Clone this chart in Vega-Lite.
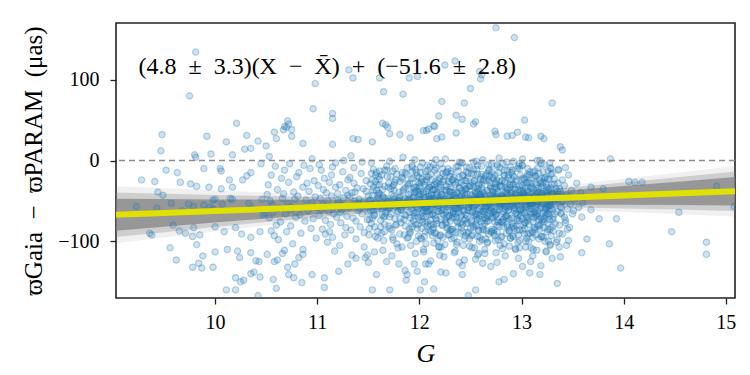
{
  "$schema": "https://vega.github.io/schema/vega-lite/v6.json",
  "width": 619,
  "height": 275,
  "autosize": {"type": "none"},
  "padding": {"left": 116, "top": 23, "right": 15, "bottom": 77},
  "background": "white",
  "config": {
    "view": {"stroke": "#222222", "strokeWidth": 1.6},
    "axis": {
      "domain": false, "grid": false,
      "labelFont": "Liberation Serif", "labelFontSize": 20, "labelColor": "#000000",
      "tickColor": "#222222", "tickSize": 6, "tickWidth": 1.3,
      "titleFont": "Liberation Serif", "titleFontWeight": "normal", "titleColor": "#000000"
    }
  },
  "datasets": {
    "band": [
      {"g": 9.03, "m": -67.1, "lo1": -86.9, "hi1": -47.3, "lo2": -94.6, "hi2": -39.6, "lo3": -102.3, "hi3": -31.9},
      {"g": 9.5, "m": -64.8, "lo1": -81.9, "hi1": -47.7, "lo2": -88.6, "hi2": -41.1, "lo3": -95.2, "hi3": -34.4},
      {"g": 10.0, "m": -62.4, "lo1": -76.7, "hi1": -48.1, "lo2": -82.3, "hi2": -42.5, "lo3": -87.8, "hi3": -37.0},
      {"g": 10.5, "m": -60.0, "lo1": -71.6, "hi1": -48.4, "lo2": -76.1, "hi2": -43.9, "lo3": -80.5, "hi3": -39.5},
      {"g": 11.0, "m": -57.6, "lo1": -66.6, "hi1": -48.6, "lo2": -70.1, "hi2": -45.1, "lo3": -73.5, "hi3": -41.7},
      {"g": 11.5, "m": -55.2, "lo1": -61.9, "hi1": -48.5, "lo2": -64.6, "hi2": -45.8, "lo3": -67.2, "hi3": -43.2},
      {"g": 12.0, "m": -52.8, "lo1": -58.1, "hi1": -47.5, "lo2": -60.1, "hi2": -45.5, "lo3": -62.1, "hi3": -43.5},
      {"g": 12.25, "m": -51.6, "lo1": -56.6, "hi1": -46.6, "lo2": -58.6, "hi2": -44.6, "lo3": -60.6, "hi3": -42.6},
      {"g": 12.5, "m": -50.4, "lo1": -55.7, "hi1": -45.1, "lo2": -57.7, "hi2": -43.1, "lo3": -59.7, "hi3": -41.1},
      {"g": 13.0, "m": -48.0, "lo1": -54.7, "hi1": -41.3, "lo2": -57.4, "hi2": -38.6, "lo3": -60.0, "hi3": -36.0},
      {"g": 13.5, "m": -45.6, "lo1": -54.6, "hi1": -36.6, "lo2": -58.1, "hi2": -33.1, "lo3": -61.5, "hi3": -29.7},
      {"g": 14.0, "m": -43.2, "lo1": -54.8, "hi1": -31.6, "lo2": -59.3, "hi2": -27.1, "lo3": -63.7, "hi3": -22.7},
      {"g": 14.5, "m": -40.8, "lo1": -55.1, "hi1": -26.5, "lo2": -60.7, "hi2": -20.9, "lo3": -66.2, "hi3": -15.4},
      {"g": 15.09, "m": -38.0, "lo1": -55.6, "hi1": -20.4, "lo2": -62.5, "hi2": -13.5, "lo3": -69.3, "hi3": -6.7}
    ],
    "ann": [
      {"g": 9.25, "d": 116, "t": "(4.8\u2002±\u20023.3)(X\u2002−\u2002X̄)\u2002+\u2002(−51.6\u2002±\u20022.8)"}
    ],
    "pts": [
      {"g":13.87,"d":2},{"g":14.05,"d":-26},{"g":14.11,"d":-27},{"g":14.18,"d":-27},{"g":13.68,"d":-33},{"g":13.8,"d":-35},{"g":13.6,"d":-45},{"g":14.91,"d":-32},{"g":15.08,"d":-57},{"g":13.68,"d":-61},{"g":13.59,"d":-70},{"g":13.76,"d":-72},{"g":13.93,"d":-72},{"g":14.54,"d":-64},{"g":13.64,"d":-97},{"g":13.86,"d":-103},{"g":13.59,"d":-114},{"g":14.47,"d":-88},{"g":14.81,"d":-101},{"g":14.81,"d":-116},{"g":13.97,"d":-133},
      {"g":9.81,"d":134},{"g":9.75,"d":80},{"g":10.21,"d":46},{"g":9.48,"d":32},{"g":9.92,"d":30},{"g":10.11,"d":23},{"g":9.47,"d":12},{"g":9.8,"d":7},{"g":9.81,"d":4},{"g":9.96,"d":8},{"g":10.31,"d":31},{"g":10.42,"d":24},{"g":10.29,"d":14},{"g":10.35,"d":15},{"g":10.17,"d":7},{"g":10.5,"d":18},{"g":9.52,"d":-12},{"g":9.63,"d":-15},{"g":9.89,"d":-10},{"g":10.05,"d":-10},{"g":10.06,"d":-13},{"g":9.28,"d":-24},{"g":9.41,"d":-26},{"g":9.66,"d":-27},{"g":9.82,"d":-32},{"g":9.94,"d":-33},{"g":9.76,"d":-29},{"g":10.14,"d":-24},{"g":10.17,"d":-33},{"g":10.27,"d":-24},{"g":10.31,"d":-19},{"g":10.06,"d":-35},{"g":10.35,"d":-15},{"g":9.44,"d":-39},{"g":9.49,"d":-43},{"g":9.23,"d":-57},{"g":9.43,"d":-59},{"g":9.57,"d":-53},{"g":9.74,"d":-54},{"g":9.79,"d":-57},{"g":9.89,"d":-55},{"g":9.98,"d":-49},{"g":10.0,"d":-48},{"g":10.15,"d":-47},{"g":10.17,"d":-48},{"g":9.68,"d":-62},{"g":9.95,"d":-58},{"g":9.98,"d":-60},{"g":10.07,"d":-54},{"g":10.33,"d":-53},{"g":10.36,"d":-59},{"g":10.46,"d":-48},{"g":10.47,"d":-67},{"g":10.49,"d":-65},{"g":9.36,"d":-90},{"g":9.38,"d":-92},{"g":9.59,"d":-80},{"g":9.65,"d":-87},{"g":9.71,"d":-90},{"g":9.79,"d":-83},{"g":9.78,"d":-94},{"g":9.85,"d":-92},{"g":10.0,"d":-82},{"g":10.09,"d":-88},{"g":9.82,"d":-104},{"g":10.2,"d":-83},{"g":10.26,"d":-91},{"g":10.35,"d":-95},{"g":10.44,"d":-88},{"g":9.56,"d":-108},{"g":9.62,"d":-123},{"g":9.88,"d":-118},{"g":10.0,"d":-113},{"g":10.12,"d":-110},{"g":10.22,"d":-112},{"g":9.78,"d":-132},{"g":9.84,"d":-127},{"g":9.87,"d":-133},{"g":9.98,"d":-132},{"g":10.2,"d":-145},{"g":10.11,"d":-160},{"g":10.2,"d":-160},{"g":10.25,"d":-150},{"g":10.28,"d":-148},{"g":10.35,"d":-140},{"g":10.38,"d":-138},{"g":10.44,"d":-144},{"g":10.4,"d":-124},{"g":10.43,"d":-125},{"g":10.51,"d":-116},{"g":10.35,"d":-114},{"g":10.42,"d":-167},{"g":10.24,"d":-120},{"g":10.45,"d":-4},{"g":10.53,"d":5},
      {"g":10.98,"d":95},{"g":10.96,"d":64},{"g":11.15,"d":58},{"g":11.15,"d":52},{"g":11.35,"d":102},{"g":11.31,"d":112},{"g":11.61,"d":102},{"g":11.65,"d":85},{"g":11.84,"d":82},{"g":11.9,"d":102},{"g":11.98,"d":104},{"g":11.64,"d":46},{"g":11.67,"d":44},{"g":11.69,"d":41},{"g":10.58,"d":35},{"g":10.67,"d":38},{"g":10.7,"d":41},{"g":10.72,"d":45},{"g":10.75,"d":38},{"g":10.75,"d":30},{"g":10.6,"d":27},{"g":10.86,"d":21},{"g":11.81,"d":32},{"g":11.71,"d":33},{"g":11.91,"d":28},{"g":11.35,"d":27},{"g":11.4,"d":26},{"g":11.15,"d":20},{"g":11.54,"d":23},{"g":12.04,"d":37},{"g":10.71,"d":49},{"g":10.68,"d":42},
      {"g":10.58,"d":-125},{"g":10.61,"d":-123},{"g":10.66,"d":-115},{"g":10.72,"d":-141},{"g":10.77,"d":-145},{"g":10.78,"d":-128},{"g":10.85,"d":-151},{"g":10.6,"d":-158},{"g":11.07,"d":-157},{"g":11.07,"d":-145},{"g":10.95,"d":-141},{"g":11.21,"d":-137},{"g":11.3,"d":-128},{"g":11.38,"d":-121},{"g":11.49,"d":-117},{"g":11.5,"d":-126},{"g":11.58,"d":-141},{"g":11.54,"d":-160},{"g":11.71,"d":-160},{"g":11.8,"d":-128},{"g":11.86,"d":-136},{"g":11.87,"d":-148},{"g":11.88,"d":-141},{"g":11.95,"d":-128},{"g":11.98,"d":-137},{"g":12.01,"d":-160},{"g":10.82,"d":-120},{"g":10.86,"d":-116},{"g":10.55,"d":-87},{"g":10.68,"d":-111},{"g":10.57,"d":-147},{"g":10.71,"d":-132},
      {"g":12.75,"d":164},{"g":12.93,"d":152},{"g":12.59,"d":110},{"g":12.61,"d":106},{"g":12.5,"d":89},{"g":12.22,"d":73},{"g":12.44,"d":71},{"g":13.3,"d":71},{"g":12.19,"d":55},{"g":12.36,"d":56},{"g":12.42,"d":51},{"g":12.55,"d":48},{"g":13.03,"d":50},{"g":12.14,"d":43},{"g":12.09,"d":39},{"g":12.36,"d":34},{"g":12.74,"d":36},{"g":12.75,"d":32},{"g":12.96,"d":35},{"g":12.86,"d":30},{"g":12.91,"d":31},{"g":13.04,"d":29},{"g":13.07,"d":28},{"g":13.19,"d":30},{"g":13.22,"d":27},{"g":13.38,"d":17},{"g":13.4,"d":13},{"g":12.17,"d":27},{"g":12.22,"d":29},{"g":12.35,"d":123},{"g":12.25,"d":118},{"g":12.6,"d":101},{"g":12.07,"d":37},{"g":12.15,"d":42},{"g":12.53,"d":45},
      {"g":13.35,"d":-152},{"g":12.78,"d":-150},{"g":12.83,"d":-147},{"g":12.55,"d":-160},{"g":12.48,"d":-167},{"g":12.14,"d":-159},{"g":12.05,"d":-150},{"g":12.21,"d":-138},{"g":12.26,"d":-139},{"g":12.42,"d":-141},{"g":12.62,"d":-127},{"g":12.76,"d":-126},{"g":12.92,"d":-140},{"g":13.01,"d":-131},{"g":13.08,"d":-139},{"g":13.18,"d":-141},{"g":13.19,"d":-130},{"g":13.3,"d":-121},{"g":13.38,"d":-119},{"g":13.37,"d":-107},{"g":13.46,"d":-99},{"g":13.44,"d":-105},{"g":13.28,"d":-105},{"g":13.4,"d":-91},{"g":13.45,"d":-85},{"g":13.43,"d":-77},{"g":13.42,"d":-70},{"g":13.51,"d":-62},{"g":12.39,"d":-126},{"g":12.42,"d":-130},{"g":12.58,"d":-115},{"g":12.55,"d":-122},{"g":12.06,"d":-128},{"g":12.11,"d":-124},{"g":12.2,"d":-117},{"g":12.98,"d":-108},{"g":13.11,"d":-118},
      {"g":10.51,"d":-42},{"g":10.53,"d":-71},{"g":10.55,"d":-18},{"g":10.56,"d":-55},{"g":10.58,"d":-93},{"g":10.52,"d":-30},{"g":10.57,"d":-64},{"g":10.59,"d":-7},{"g":10.54,"d":-50},{"g":10.6,"d":-80},
      {"g":10.61,"d":-36},{"g":10.63,"d":-59},{"g":10.62,"d":-98},{"g":10.65,"d":-22},{"g":10.66,"d":-47},{"g":10.64,"d":-76},{"g":10.68,"d":-12},{"g":10.69,"d":-66},{"g":10.67,"d":-41},{"g":10.7,"d":-88},
      {"g":10.71,"d":-53},{"g":10.72,"d":-27},{"g":10.74,"d":-81},{"g":10.73,"d":-4},{"g":10.75,"d":-61},{"g":10.77,"d":-39},{"g":10.76,"d":-103},{"g":10.78,"d":-48},{"g":10.79,"d":-70},{"g":10.8,"d":-20},{"g":10.74,"d":-57},
      {"g":10.81,"d":-44},{"g":10.83,"d":-67},{"g":10.82,"d":-15},{"g":10.84,"d":-90},{"g":10.86,"d":-33},{"g":10.85,"d":-58},{"g":10.87,"d":-6},{"g":10.88,"d":-75},{"g":10.89,"d":-49},{"g":10.9,"d":-28},{"g":10.86,"d":-110},
      {"g":10.91,"d":-62},{"g":10.92,"d":-38},{"g":10.94,"d":-84},{"g":10.93,"d":-10},{"g":10.95,"d":-52},{"g":10.96,"d":-72},{"g":10.97,"d":-25},{"g":10.98,"d":-45},{"g":10.99,"d":-96},{"g":11.0,"d":-58},{"g":10.95,"d":2},
      {"g":11.01,"d":-31},{"g":11.02,"d":-68},{"g":11.03,"d":-47},{"g":11.04,"d":-12},{"g":11.05,"d":-85},{"g":11.06,"d":-55},{"g":11.07,"d":-22},{"g":11.08,"d":-74},{"g":11.09,"d":-40},{"g":11.1,"d":-101},{"g":11.02,"d":-5},{"g":11.04,"d":-60},{"g":11.06,"d":-36},{"g":11.08,"d":-91},{"g":11.1,"d":-50},
      {"g":11.11,"d":-63},{"g":11.12,"d":-27},{"g":11.13,"d":-79},{"g":11.14,"d":-44},{"g":11.15,"d":-8},{"g":11.16,"d":-57},{"g":11.17,"d":-112},{"g":11.18,"d":-33},{"g":11.19,"d":-70},{"g":11.2,"d":-49},{"g":11.12,"d":-88},{"g":11.14,"d":-18},{"g":11.16,"d":-66},{"g":11.18,"d":-3},{"g":11.2,"d":-41},{"g":11.15,"d":-95},
      {"g":11.21,"d":-52},{"g":11.22,"d":-30},{"g":11.23,"d":-77},{"g":11.24,"d":-61},{"g":11.25,"d":-14},{"g":11.26,"d":-46},{"g":11.27,"d":-92},{"g":11.28,"d":-37},{"g":11.29,"d":-69},{"g":11.3,"d":-24},{"g":11.22,"d":-105},{"g":11.24,"d":-55},{"g":11.26,"d":0},{"g":11.28,"d":-83},{"g":11.3,"d":-43},{"g":11.23,"d":-64},
      {"g":11.31,"d":-58},{"g":11.32,"d":-21},{"g":11.33,"d":-86},{"g":11.34,"d":-40},{"g":11.35,"d":-71},{"g":11.36,"d":-9},{"g":11.37,"d":-50},{"g":11.38,"d":-97},{"g":11.39,"d":-34},{"g":11.4,"d":-62},{"g":11.32,"d":-45},{"g":11.34,"d":-117},{"g":11.36,"d":-28},{"g":11.38,"d":-75},{"g":11.4,"d":-53},{"g":11.33,"d":6},{"g":11.37,"d":-39},
      {"g":11.41,"d":-48},{"g":11.42,"d":-82},{"g":11.43,"d":-16},{"g":11.44,"d":-66},{"g":11.45,"d":-35},{"g":11.46,"d":-107},{"g":11.47,"d":-56},{"g":11.48,"d":-25},{"g":11.49,"d":-73},{"g":11.5,"d":-44},{"g":11.42,"d":-60},{"g":11.44,"d":-2},{"g":11.46,"d":-89},{"g":11.48,"d":-38},{"g":11.5,"d":-64},{"g":11.45,"d":-51},{"g":11.47,"d":-120},
      {"g":11.51,"d":-55},{"g":11.52,"d":-29},{"g":11.53,"d":-78},{"g":11.54,"d":-43},{"g":11.55,"d":-11},{"g":11.56,"d":-67},{"g":11.57,"d":-94},{"g":11.58,"d":-37},{"g":11.59,"d":-60},{"g":11.6,"d":-20},{"g":11.51,"d":-84},{"g":11.52,"d":-49},{"g":11.53,"d":-3},{"g":11.54,"d":-71},{"g":11.55,"d":-33},{"g":11.56,"d":-113},{"g":11.57,"d":-52},{"g":11.58,"d":-15},{"g":11.59,"d":-88},{"g":11.6,"d":-46},{"g":11.55,"d":-62},{"g":11.57,"d":-26},
      {"g":11.61,"d":-41},{"g":11.62,"d":-74},{"g":11.63,"d":-18},{"g":11.64,"d":-57},{"g":11.65,"d":-99},{"g":11.66,"d":-32},{"g":11.67,"d":-65},{"g":11.68,"d":-7},{"g":11.69,"d":-50},{"g":11.7,"d":-81},{"g":11.61,"d":-23},{"g":11.62,"d":-54},{"g":11.63,"d":-90},{"g":11.64,"d":-36},{"g":11.65,"d":-70},{"g":11.66,"d":-12},{"g":11.67,"d":-47},{"g":11.68,"d":-125},{"g":11.69,"d":-61},{"g":11.7,"d":-28},{"g":11.64,"d":-44},{"g":11.66,"d":-79},
      {"g":11.71,"d":-59},{"g":11.72,"d":-35},{"g":11.73,"d":-86},{"g":11.74,"d":-13},{"g":11.75,"d":-48},{"g":11.76,"d":-72},{"g":11.77,"d":-24},{"g":11.78,"d":-103},{"g":11.79,"d":-54},{"g":11.8,"d":-39},{"g":11.71,"d":-1},{"g":11.72,"d":-66},{"g":11.73,"d":-42},{"g":11.74,"d":-95},{"g":11.75,"d":-30},{"g":11.76,"d":-57},{"g":11.77,"d":-80},{"g":11.78,"d":-17},{"g":11.79,"d":-63},{"g":11.8,"d":-46},{"g":11.73,"d":-118},{"g":11.77,"d":-51},
      {"g":11.81,"d":-44},{"g":11.82,"d":-77},{"g":11.83,"d":-21},{"g":11.84,"d":-58},{"g":11.85,"d":-92},{"g":11.86,"d":-34},{"g":11.87,"d":-68},{"g":11.88,"d":-9},{"g":11.89,"d":-50},{"g":11.9,"d":-85},{"g":11.81,"d":-26},{"g":11.82,"d":-61},{"g":11.83,"d":-107},{"g":11.84,"d":-38},{"g":11.85,"d":-73},{"g":11.86,"d":-15},{"g":11.87,"d":-53},{"g":11.88,"d":-96},{"g":11.89,"d":-31},{"g":11.9,"d":-64},{"g":11.84,"d":4},{"g":11.86,"d":-47},
      {"g":11.91,"d":-56},{"g":11.92,"d":-23},{"g":11.93,"d":-82},{"g":11.94,"d":-45},{"g":11.95,"d":-69},{"g":11.96,"d":-11},{"g":11.97,"d":-100},{"g":11.98,"d":-37},{"g":11.99,"d":-60},{"g":12.0,"d":-29},{"g":11.91,"d":-88},{"g":11.92,"d":-51},{"g":11.93,"d":-6},{"g":11.94,"d":-74},{"g":11.95,"d":-40},{"g":11.96,"d":-115},{"g":11.97,"d":-57},{"g":11.98,"d":-19},{"g":11.99,"d":-79},{"g":12.0,"d":-48},{"g":11.95,"d":-33},{"g":11.97,"d":-65},
      {"g":12.01,"d":-52},{"g":12.02,"d":-27},{"g":12.03,"d":-76},{"g":12.04,"d":-41},{"g":12.05,"d":-94},{"g":12.06,"d":-14},{"g":12.07,"d":-63},{"g":12.08,"d":-35},{"g":12.09,"d":-86},{"g":12.1,"d":-48},{"g":12.01,"d":-8},{"g":12.02,"d":-70},{"g":12.03,"d":-55},{"g":12.04,"d":-110},{"g":12.05,"d":-30},{"g":12.06,"d":-59},{"g":12.07,"d":-20},{"g":12.08,"d":-81},{"g":12.09,"d":-44},{"g":12.1,"d":-67},{"g":12.01,"d":-38},{"g":12.02,"d":-97},{"g":12.03,"d":-3},{"g":12.04,"d":-62},{"g":12.05,"d":-46},{"g":12.06,"d":-78},{"g":12.07,"d":-24},{"g":12.08,"d":-53},{"g":12.09,"d":-128},{"g":12.1,"d":-33},
      {"g":12.11,"d":-60},{"g":12.12,"d":-31},{"g":12.13,"d":-85},{"g":12.14,"d":-47},{"g":12.15,"d":-12},{"g":12.16,"d":-72},{"g":12.17,"d":-39},{"g":12.18,"d":-99},{"g":12.19,"d":-56},{"g":12.2,"d":-22},{"g":12.11,"d":-79},{"g":12.12,"d":-43},{"g":12.13,"d":-66},{"g":12.14,"d":-5},{"g":12.15,"d":-90},{"g":12.16,"d":-50},{"g":12.17,"d":-28},{"g":12.18,"d":-63},{"g":12.19,"d":-107},{"g":12.2,"d":-45},{"g":12.11,"d":-17},{"g":12.12,"d":-58},{"g":12.13,"d":-36},{"g":12.14,"d":-83},{"g":12.15,"d":-54},{"g":12.16,"d":1},{"g":12.17,"d":-74},{"g":12.18,"d":-41},{"g":12.19,"d":-25},{"g":12.2,"d":-93},
      {"g":12.21,"d":-49},{"g":12.22,"d":-80},{"g":12.23,"d":-26},{"g":12.24,"d":-61},{"g":12.25,"d":-104},{"g":12.26,"d":-37},{"g":12.27,"d":-70},{"g":12.28,"d":-10},{"g":12.29,"d":-55},{"g":12.3,"d":-87},{"g":12.21,"d":-33},{"g":12.22,"d":-65},{"g":12.23,"d":-45},{"g":12.24,"d":-119},{"g":12.25,"d":-19},{"g":12.26,"d":-76},{"g":12.27,"d":-51},{"g":12.28,"d":-92},{"g":12.29,"d":-29},{"g":12.3,"d":-62},{"g":12.21,"d":-4},{"g":12.22,"d":-42},{"g":12.23,"d":-95},{"g":12.24,"d":-57},{"g":12.25,"d":-73},{"g":12.26,"d":-15},{"g":12.27,"d":-84},{"g":12.28,"d":-47},{"g":12.29,"d":-68},{"g":12.3,"d":-38},
      {"g":12.31,"d":-57},{"g":12.32,"d":-24},{"g":12.33,"d":-88},{"g":12.34,"d":-43},{"g":12.35,"d":-66},{"g":12.36,"d":-8},{"g":12.37,"d":-101},{"g":12.38,"d":-52},{"g":12.39,"d":-34},{"g":12.4,"d":-77},{"g":12.31,"d":-13},{"g":12.32,"d":-71},{"g":12.33,"d":-48},{"g":12.34,"d":-96},{"g":12.35,"d":-30},{"g":12.36,"d":-60},{"g":12.37,"d":-41},{"g":12.38,"d":-82},{"g":12.39,"d":-2},{"g":12.4,"d":-55},{"g":12.31,"d":-85},{"g":12.32,"d":-39},{"g":12.33,"d":-64},{"g":12.34,"d":-21},{"g":12.35,"d":-112},{"g":12.36,"d":-46},{"g":12.37,"d":-75},{"g":12.38,"d":-27},{"g":12.39,"d":-59},{"g":12.4,"d":-90},
      {"g":12.41,"d":-44},{"g":12.42,"d":-79},{"g":12.43,"d":-18},{"g":12.44,"d":-62},{"g":12.45,"d":-93},{"g":12.46,"d":-35},{"g":12.47,"d":-69},{"g":12.48,"d":-50},{"g":12.49,"d":-9},{"g":12.5,"d":-84},{"g":12.41,"d":-27},{"g":12.42,"d":-56},{"g":12.43,"d":-105},{"g":12.44,"d":-40},{"g":12.45,"d":-72},{"g":12.46,"d":-14},{"g":12.47,"d":-61},{"g":12.48,"d":-89},{"g":12.49,"d":-32},{"g":12.5,"d":-53},{"g":12.41,"d":-67},{"g":12.42,"d":-3},{"g":12.43,"d":-47},{"g":12.44,"d":-123},{"g":12.45,"d":-36},{"g":12.46,"d":-78},{"g":12.47,"d":-22},{"g":12.48,"d":-58},{"g":12.49,"d":-97},{"g":12.5,"d":-42},
      {"g":12.51,"d":-51},{"g":12.52,"d":-28},{"g":12.53,"d":-83},{"g":12.54,"d":-45},{"g":12.55,"d":-66},{"g":12.56,"d":-11},{"g":12.57,"d":-94},{"g":12.58,"d":-38},{"g":12.59,"d":-60},{"g":12.6,"d":-20},{"g":12.51,"d":-76},{"g":12.52,"d":-55},{"g":12.53,"d":-33},{"g":12.54,"d":-108},{"g":12.55,"d":-48},{"g":12.56,"d":-70},{"g":12.57,"d":-6},{"g":12.58,"d":-87},{"g":12.59,"d":-42},{"g":12.6,"d":-63},{"g":12.51,"d":-16},{"g":12.52,"d":-92},{"g":12.53,"d":-58},{"g":12.54,"d":-25},{"g":12.55,"d":-79},{"g":12.56,"d":-47},{"g":12.57,"d":-117},{"g":12.58,"d":-31},{"g":12.59,"d":-68},{"g":12.6,"d":-52},{"g":12.53,"d":-2},{"g":12.55,"d":-40},{"g":12.57,"d":-73},{"g":12.59,"d":-100},{"g":12.52,"d":-64},
      {"g":12.61,"d":-46},{"g":12.62,"d":-81},{"g":12.63,"d":-23},{"g":12.64,"d":-59},{"g":12.65,"d":-97},{"g":12.66,"d":-37},{"g":12.67,"d":-70},{"g":12.68,"d":-13},{"g":12.69,"d":-54},{"g":12.7,"d":-88},{"g":12.61,"d":-30},{"g":12.62,"d":-63},{"g":12.63,"d":-44},{"g":12.64,"d":-110},{"g":12.65,"d":-19},{"g":12.66,"d":-75},{"g":12.67,"d":-50},{"g":12.68,"d":-91},{"g":12.69,"d":-27},{"g":12.7,"d":-61},{"g":12.61,"d":-7},{"g":12.62,"d":-39},{"g":12.63,"d":-85},{"g":12.64,"d":-53},{"g":12.65,"d":-72},{"g":12.66,"d":-16},{"g":12.67,"d":-101},{"g":12.68,"d":-48},{"g":12.69,"d":-66},{"g":12.7,"d":-34},{"g":12.62,"d":1},{"g":12.64,"d":-78},{"g":12.66,"d":-57},{"g":12.68,"d":-24},{"g":12.7,"d":-131},
      {"g":12.71,"d":-58},{"g":12.72,"d":-22},{"g":12.73,"d":-86},{"g":12.74,"d":-41},{"g":12.75,"d":-67},{"g":12.76,"d":-5},{"g":12.77,"d":-98},{"g":12.78,"d":-49},{"g":12.79,"d":-32},{"g":12.8,"d":-76},{"g":12.71,"d":-14},{"g":12.72,"d":-70},{"g":12.73,"d":-47},{"g":12.74,"d":-93},{"g":12.75,"d":-29},{"g":12.76,"d":-61},{"g":12.77,"d":-38},{"g":12.78,"d":-82},{"g":12.79,"d":-9},{"g":12.8,"d":-54},{"g":12.71,"d":-88},{"g":12.72,"d":-43},{"g":12.73,"d":-63},{"g":12.74,"d":-18},{"g":12.75,"d":-114},{"g":12.76,"d":-52},{"g":12.77,"d":-74},{"g":12.78,"d":-26},{"g":12.79,"d":-57},{"g":12.8,"d":-95},{"g":12.72,"d":-35},{"g":12.74,"d":-68},{"g":12.76,"d":-80},{"g":12.78,"d":3},{"g":12.8,"d":-45},
      {"g":12.81,"d":-43},{"g":12.82,"d":-77},{"g":12.83,"d":-19},{"g":12.84,"d":-60},{"g":12.85,"d":-90},{"g":12.86,"d":-36},{"g":12.87,"d":-71},{"g":12.88,"d":-51},{"g":12.89,"d":-8},{"g":12.9,"d":-83},{"g":12.81,"d":-25},{"g":12.82,"d":-55},{"g":12.83,"d":-103},{"g":12.84,"d":-39},{"g":12.85,"d":-69},{"g":12.86,"d":-12},{"g":12.87,"d":-62},{"g":12.88,"d":-87},{"g":12.89,"d":-33},{"g":12.9,"d":-50},{"g":12.81,"d":-66},{"g":12.82,"d":-4},{"g":12.83,"d":-46},{"g":12.84,"d":-118},{"g":12.85,"d":-34},{"g":12.86,"d":-79},{"g":12.87,"d":-21},{"g":12.88,"d":-57},{"g":12.89,"d":-96},{"g":12.9,"d":-41},{"g":12.82,"d":-73},{"g":12.84,"d":-28},{"g":12.86,"d":-58},{"g":12.88,"d":-106},{"g":12.9,"d":-15},
      {"g":12.91,"d":-54},{"g":12.92,"d":-30},{"g":12.93,"d":-84},{"g":12.94,"d":-47},{"g":12.95,"d":-65},{"g":12.96,"d":-10},{"g":12.97,"d":-92},{"g":12.98,"d":-39},{"g":12.99,"d":-61},{"g":13.0,"d":-23},{"g":12.91,"d":-78},{"g":12.92,"d":-56},{"g":12.93,"d":-35},{"g":12.94,"d":-109},{"g":12.95,"d":-49},{"g":12.96,"d":-72},{"g":12.97,"d":-7},{"g":12.98,"d":-86},{"g":12.99,"d":-44},{"g":13.0,"d":-64},{"g":12.91,"d":-17},{"g":12.92,"d":-94},{"g":12.93,"d":-59},{"g":12.94,"d":-26},{"g":12.95,"d":-81},{"g":12.96,"d":-48},{"g":12.97,"d":-121},{"g":12.98,"d":-32},{"g":12.99,"d":-69},{"g":13.0,"d":-52},{"g":12.92,"d":-1},{"g":12.94,"d":-41},{"g":12.96,"d":-75},{"g":12.98,"d":-99},{"g":13.0,"d":-37},
      {"g":13.01,"d":-47},{"g":13.02,"d":-80},{"g":13.03,"d":-24},{"g":13.04,"d":-58},{"g":13.05,"d":-96},{"g":13.06,"d":-38},{"g":13.07,"d":-70},{"g":13.08,"d":-14},{"g":13.09,"d":-53},{"g":13.1,"d":-87},{"g":13.01,"d":-31},{"g":13.02,"d":-62},{"g":13.03,"d":-43},{"g":13.04,"d":-107},{"g":13.05,"d":-20},{"g":13.06,"d":-74},{"g":13.07,"d":-51},{"g":13.08,"d":-90},{"g":13.09,"d":-28},{"g":13.1,"d":-60},{"g":13.01,"d":-6},{"g":13.02,"d":-40},{"g":13.03,"d":-84},{"g":13.04,"d":-55},{"g":13.05,"d":-71},{"g":13.06,"d":-17},{"g":13.07,"d":-100},{"g":13.08,"d":-46},{"g":13.09,"d":-66},{"g":13.1,"d":-35},{"g":13.01,"d":2},{"g":13.03,"d":-77},{"g":13.05,"d":-57},{"g":13.07,"d":-27},{"g":13.09,"d":-125},
      {"g":13.11,"d":-56},{"g":13.12,"d":-22},{"g":13.13,"d":-85},{"g":13.14,"d":-42},{"g":13.15,"d":-68},{"g":13.16,"d":-9},{"g":13.17,"d":-97},{"g":13.18,"d":-48},{"g":13.19,"d":-33},{"g":13.2,"d":-75},{"g":13.11,"d":-15},{"g":13.12,"d":-71},{"g":13.13,"d":-50},{"g":13.14,"d":-92},{"g":13.15,"d":-30},{"g":13.16,"d":-62},{"g":13.17,"d":-39},{"g":13.18,"d":-80},{"g":13.19,"d":-4},{"g":13.2,"d":-53},{"g":13.11,"d":-89},{"g":13.12,"d":-44},{"g":13.13,"d":-64},{"g":13.14,"d":-19},{"g":13.15,"d":-111},{"g":13.16,"d":-51},{"g":13.17,"d":-73},{"g":13.18,"d":-25},{"g":13.19,"d":-58},{"g":13.2,"d":-94},{"g":13.12,"d":-36},{"g":13.14,"d":-67},{"g":13.16,"d":-82},{"g":13.18,"d":0},{"g":13.2,"d":-46},
      {"g":13.21,"d":-45},{"g":13.22,"d":-76},{"g":13.23,"d":-21},{"g":13.24,"d":-59},{"g":13.25,"d":-88},{"g":13.26,"d":-37},{"g":13.27,"d":-69},{"g":13.28,"d":-52},{"g":13.29,"d":-10},{"g":13.3,"d":-82},{"g":13.21,"d":-27},{"g":13.22,"d":-54},{"g":13.23,"d":-100},{"g":13.24,"d":-40},{"g":13.25,"d":-66},{"g":13.26,"d":-13},{"g":13.27,"d":-61},{"g":13.28,"d":-85},{"g":13.29,"d":-34},{"g":13.3,"d":-49},{"g":13.21,"d":-65},{"g":13.22,"d":-5},{"g":13.23,"d":-47},{"g":13.24,"d":-113},{"g":13.25,"d":-33},{"g":13.26,"d":-78},{"g":13.27,"d":-23},{"g":13.28,"d":-56},{"g":13.29,"d":-93},{"g":13.3,"d":-42},{"g":13.22,"d":-72},{"g":13.24,"d":-29},{"g":13.26,"d":-57},{"g":13.28,"d":-104},{"g":13.3,"d":-16},
      {"g":13.31,"d":-52},{"g":13.32,"d":-29},{"g":13.33,"d":-78},{"g":13.34,"d":-44},{"g":13.35,"d":-63},{"g":13.36,"d":-12},{"g":13.37,"d":-90},{"g":13.38,"d":-38},{"g":13.39,"d":-58},{"g":13.4,"d":-24},{"g":13.31,"d":-70},{"g":13.33,"d":-47},{"g":13.35,"d":-98},{"g":13.37,"d":-35},{"g":13.39,"d":-66},
      {"g":13.41,"d":-50},{"g":13.42,"d":-31},{"g":13.43,"d":-74},{"g":13.44,"d":-43},{"g":13.45,"d":-60},{"g":13.46,"d":-18},{"g":13.47,"d":-83},{"g":13.48,"d":-54},{"g":13.49,"d":-37},{"g":13.5,"d":-66},{"g":13.43,"d":-9},{"g":13.47,"d":-45},
      {"g":13.52,"d":-48},{"g":13.54,"d":-28},{"g":13.56,"d":-58},{"g":13.58,"d":-40},{"g":13.6,"d":-52},
      {"g":11.503,"d":-50},{"g":11.537,"d":-24},{"g":11.512,"d":-73},{"g":11.546,"d":-37},{"g":11.521,"d":-62},{"g":11.508,"d":-92},{"g":11.531,"d":-16},{"g":11.542,"d":-55},
      {"g":11.553,"d":-56},{"g":11.587,"d":-30},{"g":11.562,"d":-82},{"g":11.596,"d":-43},{"g":11.571,"d":-18},{"g":11.558,"d":-68},{"g":11.581,"d":-49},{"g":11.592,"d":-96},
      {"g":11.603,"d":-40},{"g":11.637,"d":-67},{"g":11.612,"d":-13},{"g":11.646,"d":-53},{"g":11.621,"d":-82},{"g":11.608,"d":-30},{"g":11.631,"d":-59},{"g":11.642,"d":-111},
      {"g":11.653,"d":-46},{"g":11.687,"d":-20},{"g":11.662,"d":-69},{"g":11.696,"d":-33},{"g":11.671,"d":-58},{"g":11.658,"d":-88},{"g":11.681,"d":-12},{"g":11.692,"d":-51},
      {"g":11.703,"d":-58},{"g":11.737,"d":-32},{"g":11.712,"d":-84},{"g":11.746,"d":-45},{"g":11.721,"d":-20},{"g":11.708,"d":-70},{"g":11.731,"d":-51},{"g":11.742,"d":-98},
      {"g":11.753,"d":-37},{"g":11.787,"d":-64},{"g":11.762,"d":-10},{"g":11.796,"d":-50},{"g":11.771,"d":-79},{"g":11.758,"d":-27},{"g":11.781,"d":-56},{"g":11.792,"d":-108},
      {"g":11.803,"d":-49},{"g":11.837,"d":-23},{"g":11.812,"d":-72},{"g":11.846,"d":-36},{"g":11.821,"d":-61},{"g":11.808,"d":-91},{"g":11.831,"d":-15},{"g":11.842,"d":-54},
      {"g":11.853,"d":-55},{"g":11.887,"d":-29},{"g":11.862,"d":-81},{"g":11.896,"d":-42},{"g":11.871,"d":-17},{"g":11.858,"d":-67},{"g":11.881,"d":-48},{"g":11.892,"d":-95},
      {"g":11.903,"d":-48},{"g":11.937,"d":-22},{"g":11.912,"d":-71},{"g":11.946,"d":-35},{"g":11.921,"d":-60},{"g":11.908,"d":-90},{"g":11.931,"d":-14},{"g":11.942,"d":-53},{"g":11.917,"d":-40},{"g":11.926,"d":-78},{"g":11.905,"d":-28},{"g":11.939,"d":-65},{"g":11.914,"d":-105},{"g":11.948,"d":-46},{"g":11.929,"d":-8},
      {"g":11.953,"d":-53},{"g":11.987,"d":-27},{"g":11.962,"d":-79},{"g":11.996,"d":-40},{"g":11.971,"d":-15},{"g":11.958,"d":-65},{"g":11.981,"d":-46},{"g":11.992,"d":-93},{"g":11.967,"d":-33},{"g":11.976,"d":-58},{"g":11.955,"d":1},{"g":11.989,"d":-70},{"g":11.964,"d":-38},{"g":11.998,"d":-21},{"g":11.979,"d":-84},
      {"g":12.003,"d":-42},{"g":12.037,"d":-69},{"g":12.012,"d":-15},{"g":12.046,"d":-55},{"g":12.021,"d":-84},{"g":12.008,"d":-32},{"g":12.031,"d":-61},{"g":12.042,"d":-113},{"g":12.017,"d":-48},{"g":12.026,"d":-23},{"g":12.005,"d":-74},{"g":12.039,"d":-39},{"g":12.014,"d":-96},{"g":12.048,"d":-58},{"g":12.029,"d":-65},
      {"g":12.053,"d":-46},{"g":12.087,"d":-20},{"g":12.062,"d":-69},{"g":12.096,"d":-33},{"g":12.071,"d":-58},{"g":12.058,"d":-88},{"g":12.081,"d":-12},{"g":12.092,"d":-51},{"g":12.067,"d":-38},{"g":12.076,"d":-76},{"g":12.055,"d":-26},{"g":12.089,"d":-63},{"g":12.064,"d":-103},{"g":12.098,"d":-44},{"g":12.079,"d":-6},
      {"g":12.103,"d":-62},{"g":12.137,"d":-36},{"g":12.112,"d":-88},{"g":12.146,"d":-49},{"g":12.121,"d":-24},{"g":12.108,"d":-74},{"g":12.131,"d":-55},{"g":12.142,"d":-102},{"g":12.117,"d":-42},{"g":12.126,"d":-67},{"g":12.105,"d":-8},{"g":12.139,"d":-79},{"g":12.114,"d":-47},{"g":12.148,"d":-30},{"g":12.129,"d":-93},
      {"g":12.153,"d":-36},{"g":12.187,"d":-63},{"g":12.162,"d":-9},{"g":12.196,"d":-49},{"g":12.171,"d":-78},{"g":12.158,"d":-26},{"g":12.181,"d":-55},{"g":12.192,"d":-107},{"g":12.167,"d":-42},{"g":12.176,"d":-17},{"g":12.155,"d":-68},{"g":12.189,"d":-33},{"g":12.164,"d":-90},{"g":12.198,"d":-52},{"g":12.179,"d":-59},
      {"g":12.203,"d":-50},{"g":12.237,"d":-24},{"g":12.212,"d":-73},{"g":12.246,"d":-37},{"g":12.221,"d":-62},{"g":12.208,"d":-92},{"g":12.231,"d":-16},{"g":12.242,"d":-55},{"g":12.217,"d":-42},{"g":12.226,"d":-80},{"g":12.205,"d":-30},{"g":12.239,"d":-67},{"g":12.214,"d":-107},{"g":12.248,"d":-48},{"g":12.229,"d":-10},
      {"g":12.253,"d":-52},{"g":12.287,"d":-26},{"g":12.262,"d":-78},{"g":12.296,"d":-39},{"g":12.271,"d":-14},{"g":12.258,"d":-64},{"g":12.281,"d":-45},{"g":12.292,"d":-92},{"g":12.267,"d":-32},{"g":12.276,"d":-57},{"g":12.255,"d":2},{"g":12.289,"d":-69},{"g":12.264,"d":-37},{"g":12.298,"d":-20},{"g":12.279,"d":-83},
      {"g":12.303,"d":-43},{"g":12.337,"d":-70},{"g":12.312,"d":-16},{"g":12.346,"d":-56},{"g":12.321,"d":-85},{"g":12.308,"d":-33},{"g":12.331,"d":-62},{"g":12.342,"d":-114},{"g":12.317,"d":-49},{"g":12.326,"d":-24},{"g":12.305,"d":-75},{"g":12.339,"d":-40},{"g":12.314,"d":-97},{"g":12.348,"d":-59},{"g":12.329,"d":-66},
      {"g":12.353,"d":-47},{"g":12.387,"d":-21},{"g":12.362,"d":-70},{"g":12.396,"d":-34},{"g":12.371,"d":-59},{"g":12.358,"d":-89},{"g":12.381,"d":-13},{"g":12.392,"d":-52},{"g":12.367,"d":-39},{"g":12.376,"d":-77},{"g":12.355,"d":-27},{"g":12.389,"d":-64},{"g":12.364,"d":-104},{"g":12.398,"d":-45},{"g":12.379,"d":-7},
      {"g":12.403,"d":-57},{"g":12.437,"d":-31},{"g":12.412,"d":-83},{"g":12.446,"d":-44},{"g":12.421,"d":-19},{"g":12.408,"d":-69},{"g":12.431,"d":-50},{"g":12.442,"d":-97},{"g":12.417,"d":-37},{"g":12.426,"d":-62},{"g":12.405,"d":-3},{"g":12.439,"d":-74},{"g":12.414,"d":-42},{"g":12.448,"d":-25},{"g":12.429,"d":-88},
      {"g":12.453,"d":-35},{"g":12.487,"d":-62},{"g":12.462,"d":-8},{"g":12.496,"d":-48},{"g":12.471,"d":-77},{"g":12.458,"d":-25},{"g":12.481,"d":-54},{"g":12.492,"d":-106},{"g":12.467,"d":-41},{"g":12.476,"d":-16},{"g":12.455,"d":-67},{"g":12.489,"d":-32},{"g":12.464,"d":-89},{"g":12.498,"d":-51},{"g":12.479,"d":-58},
      {"g":12.503,"d":-51},{"g":12.537,"d":-25},{"g":12.512,"d":-74},{"g":12.546,"d":-38},{"g":12.521,"d":-63},{"g":12.508,"d":-93},{"g":12.531,"d":-17},{"g":12.542,"d":-56},{"g":12.517,"d":-43},{"g":12.526,"d":-81},{"g":12.505,"d":-31},{"g":12.539,"d":-68},{"g":12.514,"d":-108},{"g":12.548,"d":-49},{"g":12.529,"d":-11},
      {"g":12.553,"d":-55},{"g":12.587,"d":-29},{"g":12.562,"d":-81},{"g":12.596,"d":-42},{"g":12.571,"d":-17},{"g":12.558,"d":-67},{"g":12.581,"d":-48},{"g":12.592,"d":-95},{"g":12.567,"d":-35},{"g":12.576,"d":-60},{"g":12.555,"d":-1},{"g":12.589,"d":-72},{"g":12.564,"d":-40},{"g":12.598,"d":-23},{"g":12.579,"d":-86},
      {"g":12.603,"d":-44},{"g":12.637,"d":-71},{"g":12.612,"d":-17},{"g":12.646,"d":-57},{"g":12.621,"d":-86},{"g":12.608,"d":-34},{"g":12.631,"d":-63},{"g":12.642,"d":-115},{"g":12.617,"d":-50},{"g":12.626,"d":-25},{"g":12.605,"d":-76},{"g":12.639,"d":-41},{"g":12.614,"d":-98},{"g":12.648,"d":-60},{"g":12.629,"d":-67},
      {"g":12.653,"d":-45},{"g":12.687,"d":-19},{"g":12.662,"d":-68},{"g":12.696,"d":-32},{"g":12.671,"d":-57},{"g":12.658,"d":-87},{"g":12.681,"d":-11},{"g":12.692,"d":-50},{"g":12.667,"d":-37},{"g":12.676,"d":-75},{"g":12.655,"d":-25},{"g":12.689,"d":-62},{"g":12.664,"d":-102},{"g":12.698,"d":-43},{"g":12.679,"d":-5},
      {"g":12.703,"d":-59},{"g":12.737,"d":-33},{"g":12.712,"d":-85},{"g":12.746,"d":-46},{"g":12.721,"d":-21},{"g":12.708,"d":-71},{"g":12.731,"d":-52},{"g":12.742,"d":-99},{"g":12.717,"d":-39},{"g":12.726,"d":-64},{"g":12.705,"d":-5},{"g":12.739,"d":-76},{"g":12.714,"d":-44},{"g":12.748,"d":-27},{"g":12.729,"d":-90},
      {"g":12.753,"d":-34},{"g":12.787,"d":-61},{"g":12.762,"d":-7},{"g":12.796,"d":-47},{"g":12.771,"d":-76},{"g":12.758,"d":-24},{"g":12.781,"d":-53},{"g":12.792,"d":-105},{"g":12.767,"d":-40},{"g":12.776,"d":-15},{"g":12.755,"d":-66},{"g":12.789,"d":-31},{"g":12.764,"d":-88},{"g":12.798,"d":-50},{"g":12.779,"d":-57},
      {"g":12.803,"d":-52},{"g":12.837,"d":-26},{"g":12.812,"d":-75},{"g":12.846,"d":-39},{"g":12.821,"d":-64},{"g":12.808,"d":-94},{"g":12.831,"d":-18},{"g":12.842,"d":-57},{"g":12.817,"d":-44},{"g":12.826,"d":-82},{"g":12.805,"d":-32},{"g":12.839,"d":-69},{"g":12.814,"d":-109},{"g":12.848,"d":-50},{"g":12.829,"d":-12},
      {"g":12.853,"d":-56},{"g":12.887,"d":-30},{"g":12.862,"d":-82},{"g":12.896,"d":-43},{"g":12.871,"d":-18},{"g":12.858,"d":-68},{"g":12.881,"d":-49},{"g":12.892,"d":-96},{"g":12.867,"d":-36},{"g":12.876,"d":-61},{"g":12.855,"d":-2},{"g":12.889,"d":-73},{"g":12.864,"d":-41},{"g":12.898,"d":-24},{"g":12.879,"d":-87},
      {"g":12.903,"d":-39},{"g":12.937,"d":-66},{"g":12.912,"d":-12},{"g":12.946,"d":-52},{"g":12.921,"d":-81},{"g":12.908,"d":-29},{"g":12.931,"d":-58},{"g":12.942,"d":-110},{"g":12.917,"d":-45},{"g":12.926,"d":-20},{"g":12.905,"d":-71},{"g":12.939,"d":-36},{"g":12.914,"d":-93},{"g":12.948,"d":-55},{"g":12.929,"d":-62},
      {"g":12.953,"d":-44},{"g":12.987,"d":-18},{"g":12.962,"d":-67},{"g":12.996,"d":-31},{"g":12.971,"d":-56},{"g":12.958,"d":-86},{"g":12.981,"d":-10},{"g":12.992,"d":-49},{"g":12.967,"d":-36},{"g":12.976,"d":-74},{"g":12.955,"d":-24},{"g":12.989,"d":-61},{"g":12.964,"d":-101},{"g":12.998,"d":-42},{"g":12.979,"d":-4},
      {"g":13.003,"d":-60},{"g":13.037,"d":-34},{"g":13.012,"d":-86},{"g":13.046,"d":-47},{"g":13.021,"d":-22},{"g":13.008,"d":-72},{"g":13.031,"d":-53},{"g":13.042,"d":-100},{"g":13.017,"d":-40},{"g":13.026,"d":-65},{"g":13.005,"d":-6},{"g":13.039,"d":-77},{"g":13.014,"d":-45},{"g":13.048,"d":-28},{"g":13.029,"d":-91},
      {"g":13.053,"d":-37},{"g":13.087,"d":-64},{"g":13.062,"d":-10},{"g":13.096,"d":-50},{"g":13.071,"d":-79},{"g":13.058,"d":-27},{"g":13.081,"d":-56},{"g":13.092,"d":-108},{"g":13.067,"d":-43},{"g":13.076,"d":-18},{"g":13.055,"d":-69},{"g":13.089,"d":-34},{"g":13.064,"d":-91},{"g":13.098,"d":-53},{"g":13.079,"d":-60},
      {"g":13.103,"d":-53},{"g":13.137,"d":-27},{"g":13.112,"d":-76},{"g":13.146,"d":-40},{"g":13.121,"d":-65},{"g":13.108,"d":-95},{"g":13.131,"d":-19},{"g":13.142,"d":-58},{"g":13.117,"d":-45},{"g":13.126,"d":-83},{"g":13.105,"d":-33},{"g":13.139,"d":-70},{"g":13.114,"d":-110},{"g":13.148,"d":-51},{"g":13.129,"d":-13},
      {"g":13.153,"d":-54},{"g":13.187,"d":-28},{"g":13.162,"d":-80},{"g":13.196,"d":-41},{"g":13.171,"d":-16},{"g":13.158,"d":-66},{"g":13.181,"d":-47},{"g":13.192,"d":-94},{"g":13.167,"d":-34},{"g":13.176,"d":-59},{"g":13.155,"d":0},{"g":13.189,"d":-71},{"g":13.164,"d":-39},{"g":13.198,"d":-22},{"g":13.179,"d":-85},
      {"g":13.203,"d":-41},{"g":13.237,"d":-68},{"g":13.212,"d":-14},{"g":13.246,"d":-54},{"g":13.221,"d":-83},{"g":13.208,"d":-31},{"g":13.231,"d":-60},{"g":13.242,"d":-112},{"g":13.217,"d":-47},{"g":13.226,"d":-22},{"g":13.205,"d":-73},{"g":13.239,"d":-38},{"g":13.214,"d":-95},{"g":13.248,"d":-57},{"g":13.229,"d":-64},
      {"g":13.253,"d":-43},{"g":13.287,"d":-17},{"g":13.262,"d":-66},{"g":13.296,"d":-30},{"g":13.271,"d":-55},{"g":13.258,"d":-85},{"g":13.281,"d":-9},{"g":13.292,"d":-48},{"g":13.267,"d":-35},{"g":13.276,"d":-73},{"g":13.255,"d":-23},{"g":13.289,"d":-60},{"g":13.264,"d":-100},{"g":13.298,"d":-41},{"g":13.279,"d":-3},
      {"g":13.303,"d":-61},{"g":13.337,"d":-35},{"g":13.312,"d":-87},{"g":13.346,"d":-48},{"g":13.321,"d":-23},{"g":13.308,"d":-73},{"g":13.331,"d":-54},{"g":13.342,"d":-101},{"g":13.317,"d":-41},{"g":13.326,"d":-66},
      {"g":13.353,"d":-38},{"g":13.387,"d":-65},{"g":13.362,"d":-11},{"g":13.396,"d":-51},{"g":13.371,"d":-80},{"g":13.358,"d":-28},{"g":13.381,"d":-57},{"g":13.392,"d":-44}
    ]
  },
  "layer": [
    {
      "data": {"name": "band"},
      "mark": {"type": "area", "color": "#808080", "opacity": 0.12, "clip": true},
      "encoding": {
        "x": {"field": "g", "type": "quantitative", "scale": {"domain": [9.03, 15.09], "nice": false, "zero": false}, "axis": {"values": [10, 11, 12, 13, 14, 15], "format": "d", "labelPadding": 8, "titleFontSize": 26, "titleFontStyle": "italic", "titlePadding": 8}, "title": "G"},
        "y": {"field": "lo3", "type": "quantitative", "scale": {"domain": [-170, 170], "nice": false, "zero": false}, "axis": {"values": [-100, 0, 100], "format": "d", "labelPadding": 11, "titleFontSize": 25, "titlePadding": 11}, "title": "ϖGaia\u2002−\u2002ϖPARAM\u2002(μas)"},
        "y2": {"field": "hi3"}
      }
    },
    {
      "data": {"name": "band"},
      "mark": {"type": "area", "color": "#808080", "opacity": 0.3, "clip": true},
      "encoding": {
        "x": {"field": "g", "type": "quantitative", "title": "G"},
        "y": {"field": "lo2", "type": "quantitative", "title": "ϖGaia\u2002−\u2002ϖPARAM\u2002(μas)"},
        "y2": {"field": "hi2"}
      }
    },
    {
      "data": {"name": "band"},
      "mark": {"type": "area", "color": "#808080", "opacity": 0.7, "clip": true},
      "encoding": {
        "x": {"field": "g", "type": "quantitative", "title": "G"},
        "y": {"field": "lo1", "type": "quantitative", "title": "ϖGaia\u2002−\u2002ϖPARAM\u2002(μas)"},
        "y2": {"field": "hi1"}
      }
    },
    {
      "data": {"name": "pts"},
      "mark": {"type": "circle", "size": 40, "color": "#1f77b4", "fillOpacity": 0.21, "stroke": "#1f77b4", "strokeOpacity": 0.3, "strokeWidth": 1.2, "clip": true},
      "encoding": {
        "x": {"field": "g", "type": "quantitative", "title": "G"},
        "y": {"field": "d", "type": "quantitative", "title": "ϖGaia\u2002−\u2002ϖPARAM\u2002(μas)"}
      }
    },
    {
      "data": {"values": [{"z": 0}]},
      "mark": {"type": "rule", "color": "#8c8c8c", "strokeWidth": 1.5, "strokeDash": [6, 4]},
      "encoding": {
        "y": {"field": "z", "type": "quantitative", "title": "ϖGaia\u2002−\u2002ϖPARAM\u2002(μas)"}
      }
    },
    {
      "data": {"name": "band"},
      "mark": {"type": "line", "color": "#e1e100", "strokeWidth": 6, "clip": true},
      "encoding": {
        "x": {"field": "g", "type": "quantitative", "title": "G"},
        "y": {"field": "m", "type": "quantitative", "title": "ϖGaia\u2002−\u2002ϖPARAM\u2002(μas)"}
      }
    },
    {
      "data": {"name": "ann"},
      "mark": {"type": "text", "align": "left", "baseline": "middle", "font": "Liberation Serif", "fontSize": 24, "color": "#000000"},
      "encoding": {
        "x": {"field": "g", "type": "quantitative", "title": "G"},
        "y": {"field": "d", "type": "quantitative", "title": "ϖGaia\u2002−\u2002ϖPARAM\u2002(μas)"},
        "text": {"field": "t"}
      }
    }
  ]
}
